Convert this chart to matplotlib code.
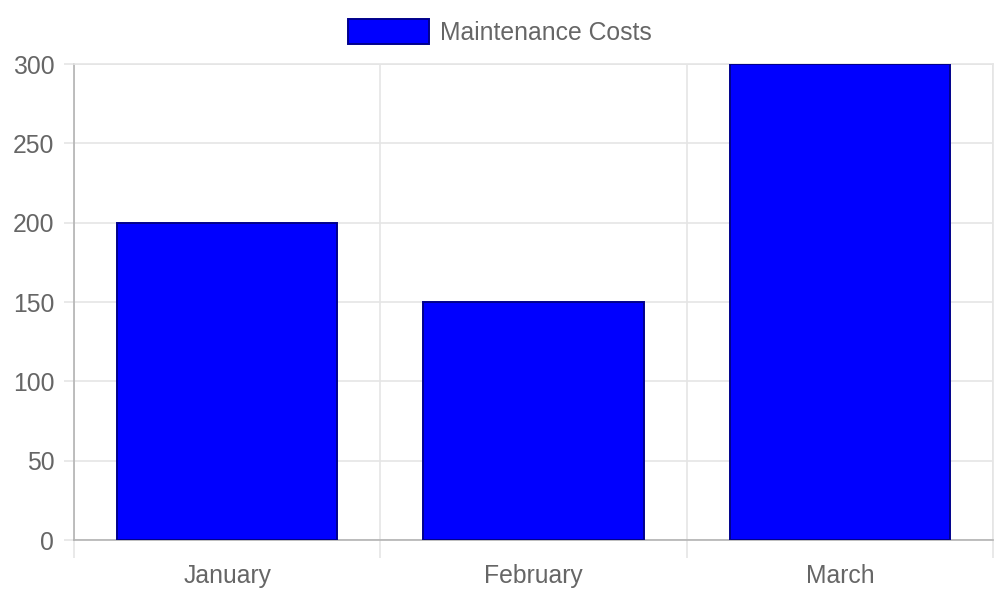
import matplotlib.pyplot as plt
import numpy as np

# chart data
months = ['January', 'February', 'March']
costs = [200, 150, 300]
y_ticks = [0, 50, 100, 150, 200, 250, 300]

plt.rcParams['font.family'] = ['Liberation Sans', 'DejaVu Sans']

grid_color = '#e5e5e5'
axis_color = '#b3b3b3'
text_color = '#666666'
font_size = 17.8

fig = plt.figure(figsize=(10, 6), dpi=100)
ax = fig.add_axes([0.074, 0.1, 0.919, 0.7933])

x = np.arange(len(months))
ax.bar(x, costs, width=0.72, color='#0000ff', edgecolor='#00008b',
       linewidth=1.4, label='Maintenance Costs', zorder=3)

ax.set_xlim(-0.5, len(months) - 0.5)
ax.set_ylim(0, 300)

# y axis
ax.set_yticks(y_ticks)
ax.yaxis.grid(True, color=grid_color, linewidth=1.2, zorder=0)
ax.tick_params(axis='y', length=7.2, width=1.2, color=grid_color,
               labelsize=font_size, labelcolor=text_color, pad=7)

# x axis: labels at centres, grid and tick marks at boundaries
ax.set_xticks(x)
ax.set_xticklabels(months)
ax.set_xticks(np.arange(len(months) + 1) - 0.5, minor=True)
ax.xaxis.grid(True, which='minor', color=grid_color, linewidth=1.2, zorder=0)
ax.tick_params(axis='x', which='major', length=0, labelsize=font_size,
               labelcolor=text_color, pad=17)
ax.tick_params(axis='x', which='minor', length=13, width=1.2, color=grid_color)

for side in ['top', 'right']:
    ax.spines[side].set_color(grid_color)
    ax.spines[side].set_linewidth(1.2)
for side in ['left', 'bottom']:
    ax.spines[side].set_color(axis_color)
    ax.spines[side].set_linewidth(1.2)

fig.legend(loc='upper center', bbox_to_anchor=(0.5, 1.006), frameon=False,
           fontsize=font_size, labelcolor=text_color, handlelength=3.3,
           handleheight=1.2, handletextpad=0.45)

plt.savefig('out.png')
